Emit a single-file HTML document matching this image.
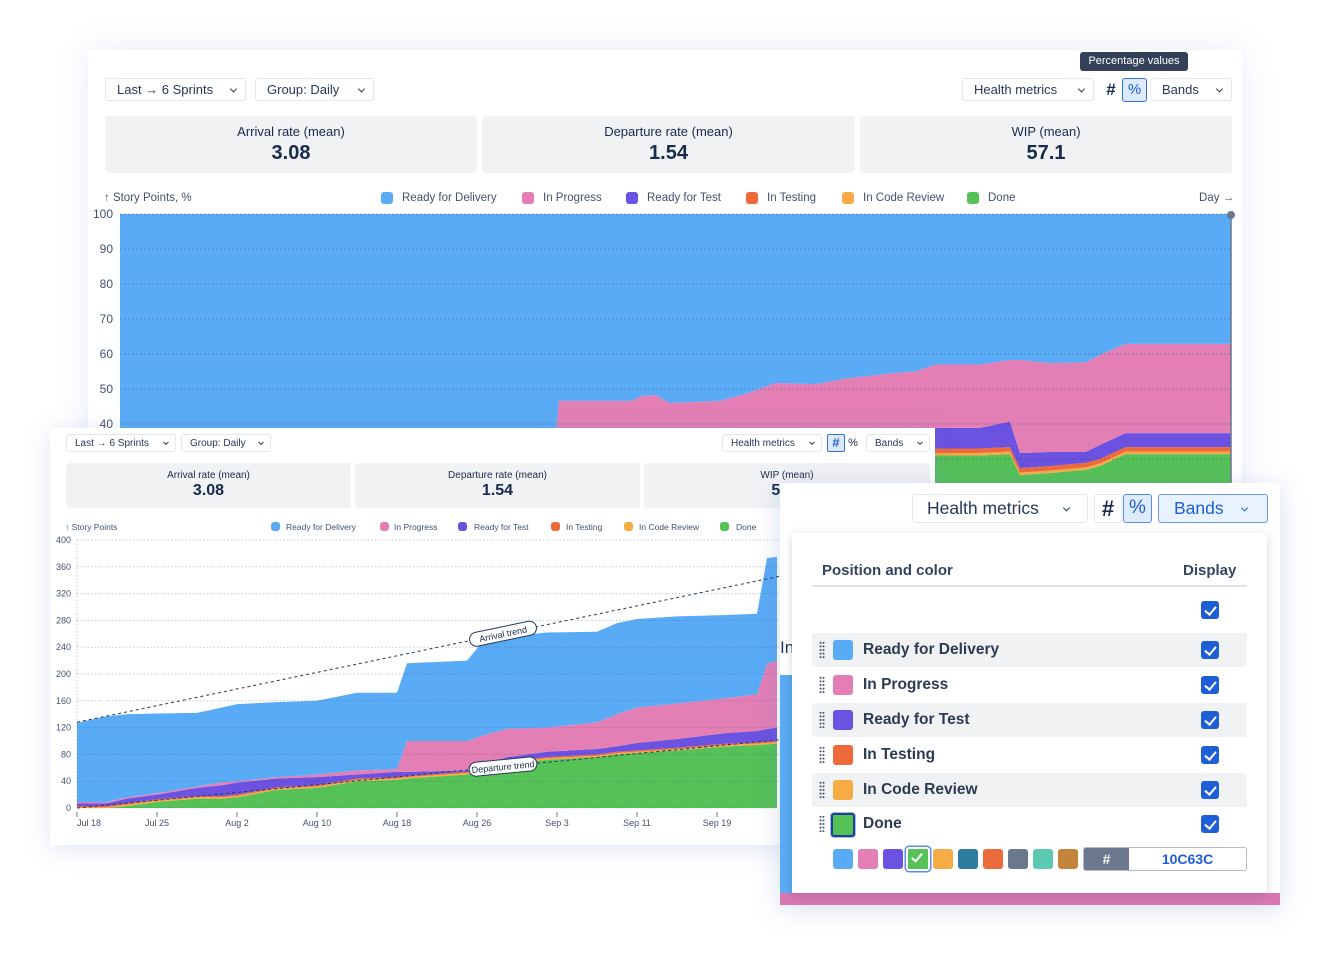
<!DOCTYPE html>
<html><head><meta charset="utf-8">
<style>
*{box-sizing:border-box;margin:0;padding:0}
body{width:1329px;height:956px;background:#fff;position:relative;overflow:hidden;font-family:"Liberation Sans",sans-serif;color:#172b4d}
.card{position:absolute;background:#fff;overflow:hidden}
.abs{position:absolute}
.btn{position:absolute;border:1px solid #e3e6ea;border-radius:3px;background:#fff;display:flex;align-items:center;padding-left:11px;color:#253858;white-space:nowrap}
.btn .chev{position:absolute;right:9px;top:50%;width:5px;height:5px;border-right:1.5px solid #253858;border-bottom:1.5px solid #253858;transform:translateY(-70%) rotate(45deg)}
.tile{position:absolute;background:#f1f2f4;border-radius:4px;text-align:center}
.sw{position:absolute;border-radius:3px}
.lg{position:absolute;white-space:nowrap;color:#42526e}
.cb{position:absolute;width:18px;height:18px;background:#1e5fd6;border-radius:3px}
.cb:after{content:"";position:absolute;left:6px;top:2.5px;width:5px;height:9px;border-right:2px solid #fff;border-bottom:2px solid #fff;transform:rotate(40deg)}
.row{position:absolute;left:812px;width:435px;height:34px;border-radius:3px}
.rl{position:absolute;font-weight:bold;font-size:15.5px;color:#2c3a52}
.drag{position:absolute;width:6px;height:18px;background-image:radial-gradient(circle,#42526e 0.9px,transparent 1.1px);background-size:3px 3.6px}
</style></head><body>

<!-- BACK CARD -->
<div class="card" style="left:88px;top:50px;width:1154px;height:460px;box-shadow:0 0 30px rgba(120,150,220,0.18)">
  <svg id="backSvg" class="abs" style="left:-88px;top:-50px" width="1329" height="956"></svg>
</div>
<div class="btn" style="left:105px;top:78px;width:141px;height:23px;font-size:13px">Last → 6 Sprints<span class="chev"></span></div>
<div class="btn" style="left:255px;top:78px;width:119px;height:23px;font-size:13px">Group: Daily<span class="chev"></span></div>
<div class="btn" style="left:962px;top:78px;width:132px;height:23px;font-size:13px">Health metrics<span class="chev"></span></div>
<div class="abs" style="left:1101px;top:78px;width:20px;height:23px;font-size:17px;font-weight:bold;text-align:center;line-height:23px">#</div>
<div class="abs" style="left:1122px;top:78px;width:25px;height:24px;background:#deebff;border:1.5px solid #2f6fde;border-radius:3px;font-size:15px;text-align:center;line-height:21px;color:#1d5ed8">%</div>
<div class="btn" style="left:1150px;top:78px;width:82px;height:23px;font-size:13px">Bands<span class="chev"></span></div>
<div class="abs" style="left:1080px;top:52px;width:108px;height:19px;background:#344158;color:#fff;font-size:11px;border-radius:3px;text-align:center;line-height:19px">Percentage values</div>

<div class="tile" style="left:105px;top:116px;width:372px;height:57px"><div style="font-size:13px;margin-top:8px">Arrival rate (mean)</div><div style="font-size:20px;font-weight:bold;margin-top:3px">3.08</div></div>
<div class="tile" style="left:482px;top:116px;width:373px;height:57px"><div style="font-size:13px;margin-top:8px">Departure rate (mean)</div><div style="font-size:20px;font-weight:bold;margin-top:3px">1.54</div></div>
<div class="tile" style="left:860px;top:116px;width:372px;height:57px"><div style="font-size:13px;margin-top:8px">WIP (mean)</div><div style="font-size:20px;font-weight:bold;margin-top:3px">57.1</div></div>

<div class="lg" style="left:104px;top:192px;font-size:11.5px">↑ Story Points, %</div>
<div class="lg" style="left:1199px;top:192px;font-size:11.5px">Day →</div>
<div>
<div class="sw" style="left:381px;top:192px;width:12px;height:12px;background:#5aabf5"></div><div class="lg" style="left:402px;top:192px;font-size:11.5px">Ready for Delivery</div>
<div class="sw" style="left:522px;top:192px;width:12px;height:12px;background:#e37fb5"></div><div class="lg" style="left:543px;top:192px;font-size:11.5px">In Progress</div>
<div class="sw" style="left:626px;top:192px;width:12px;height:12px;background:#6b52e0"></div><div class="lg" style="left:647px;top:192px;font-size:11.5px">Ready for Test</div>
<div class="sw" style="left:746px;top:192px;width:12px;height:12px;background:#ee6a3a"></div><div class="lg" style="left:767px;top:192px;font-size:11.5px">In Testing</div>
<div class="sw" style="left:842px;top:192px;width:12px;height:12px;background:#f5ac45"></div><div class="lg" style="left:863px;top:192px;font-size:11.5px">In Code Review</div>
<div class="sw" style="left:967px;top:192px;width:12px;height:12px;background:#55c157"></div><div class="lg" style="left:988px;top:192px;font-size:11.5px">Done</div>
</div>

<!-- FRONT CARD -->
<div class="card" style="left:50px;top:428px;width:885px;height:417px;box-shadow:0 4px 24px rgba(100,130,200,0.2)">
  <svg id="frontSvg" class="abs" style="left:-50px;top:-428px" width="1329" height="956"></svg>
</div>
<div class="btn" style="left:66px;top:434px;width:110px;height:18px;font-size:10px;padding-left:8px">Last → 6 Sprints<span class="chev" style="width:4px;height:4px;right:7px"></span></div>
<div class="btn" style="left:181px;top:434px;width:90px;height:18px;font-size:10px;padding-left:8px">Group: Daily<span class="chev" style="width:4px;height:4px;right:7px"></span></div>
<div class="btn" style="left:722px;top:434px;width:100px;height:18px;font-size:10px;padding-left:8px">Health metrics<span class="chev" style="width:4px;height:4px;right:7px"></span></div>
<div class="abs" style="left:827px;top:434px;width:18px;height:18px;background:#deebff;border:1px solid #2f6fde;border-radius:2px;font-size:13px;font-weight:bold;text-align:center;line-height:16px;color:#1d5ed8">#</div>
<div class="abs" style="left:846px;top:434px;width:14px;height:18px;font-size:11px;text-align:center;line-height:18px">%</div>
<div class="btn" style="left:866px;top:434px;width:64px;height:18px;font-size:10px;padding-left:8px">Bands<span class="chev" style="width:4px;height:4px;right:7px"></span></div>
<div class="tile" style="left:66px;top:463px;width:285px;height:45px"><div style="font-size:10px;margin-top:7px">Arrival rate (mean)</div><div style="font-size:16px;font-weight:bold;margin-top:1px">3.08</div></div>
<div class="tile" style="left:355px;top:463px;width:285px;height:45px"><div style="font-size:10px;margin-top:7px">Departure rate (mean)</div><div style="font-size:16px;font-weight:bold;margin-top:1px">1.54</div></div>
<div class="tile" style="left:644px;top:463px;width:286px;height:45px"><div style="font-size:10px;margin-top:7px">WIP (mean)</div><div style="font-size:16px;font-weight:bold;margin-top:1px">57.1</div></div>
<div class="lg" style="left:65px;top:522px;font-size:8.5px">↑ Story Points</div>
<div>
<div class="sw" style="left:271px;top:522px;width:9px;height:9px;background:#5aabf5"></div><div class="lg" style="left:286px;top:522px;font-size:8.5px">Ready for Delivery</div>
<div class="sw" style="left:380px;top:522px;width:9px;height:9px;background:#e37fb5"></div><div class="lg" style="left:394px;top:522px;font-size:8.5px">In Progress</div>
<div class="sw" style="left:458px;top:522px;width:9px;height:9px;background:#6b52e0"></div><div class="lg" style="left:474px;top:522px;font-size:8.5px">Ready for Test</div>
<div class="sw" style="left:551px;top:522px;width:9px;height:9px;background:#ee6a3a"></div><div class="lg" style="left:566px;top:522px;font-size:8.5px">In Testing</div>
<div class="sw" style="left:624px;top:522px;width:9px;height:9px;background:#f5ac45"></div><div class="lg" style="left:639px;top:522px;font-size:8.5px">In Code Review</div>
<div class="sw" style="left:720px;top:522px;width:9px;height:9px;background:#55c157"></div><div class="lg" style="left:736px;top:522px;font-size:8.5px">Done</div>
</div>

<!-- SETTINGS PANEL -->
<div class="card" style="left:780px;top:483px;width:500px;height:422px;box-shadow:0 4px 24px rgba(100,130,200,0.25)">
  <div class="abs" style="left:0;top:192px;width:12px;height:218px;background:#5aabf5"></div>
  <div class="abs" style="left:0;top:410px;width:500px;height:12px;background:#d978b0"></div>
  <div class="abs" style="left:0;top:155px;font-size:17px;color:#253858">In</div>
</div>
<div class="btn" style="left:912px;top:494px;width:176px;height:29px;font-size:17.5px;padding-left:14px">Health metrics<span class="chev" style="right:18px"></span></div>
<div class="abs" style="left:1094px;top:494px;width:28px;height:29px;border:1px solid #e3e6ea;border-radius:3px;font-size:22px;font-weight:bold;text-align:center;line-height:27px">#</div>
<div class="abs" style="left:1123px;top:494px;width:29px;height:29px;background:#deebff;border:1.5px solid #5a8ee6;border-radius:3px;font-size:19px;text-align:center;line-height:26px;color:#1d5ed8">%</div>
<div class="btn" style="left:1158px;top:494px;width:110px;height:29px;font-size:17.5px;padding-left:15px;background:#e9f2ff;border:1.5px solid #6b9ae8;color:#1d5ed8">Bands<span class="chev" style="right:20px;border-color:#1d5ed8"></span></div>

<div class="abs" style="left:792px;top:533px;width:475px;height:360px;background:#fff;border-radius:4px;box-shadow:0 2px 10px rgba(9,30,66,0.18)"></div>
<div class="rl" style="left:822px;top:562px;font-size:15px;color:#344563">Position and color</div>
<div class="rl" style="left:1183px;top:562px;font-size:15px;color:#344563">Display</div>
<div class="abs" style="left:812px;top:585px;width:435px;height:2px;background:#dfe1e6"></div>
<div class="cb" style="left:1201px;top:601px"></div>

<div class="row" style="top:633px;background:#f1f2f4"></div>
<div class="row" style="top:703px;background:#f1f2f4"></div>
<div class="row" style="top:773px;background:#f1f2f4"></div>

<div class="drag" style="left:819px;top:641px"></div>
<div class="sw" style="left:833px;top:640px;width:20px;height:20px;background:#5aabf5"></div>
<div class="rl" style="left:863px;top:641px">Ready for Delivery</div>
<div class="cb" style="left:1201px;top:641px"></div>

<div class="drag" style="left:819px;top:676px"></div>
<div class="sw" style="left:833px;top:675px;width:20px;height:20px;background:#e37fb5"></div>
<div class="rl" style="left:863px;top:676px">In Progress</div>
<div class="cb" style="left:1201px;top:676px"></div>

<div class="drag" style="left:819px;top:711px"></div>
<div class="sw" style="left:833px;top:710px;width:20px;height:20px;background:#6b52e0"></div>
<div class="rl" style="left:863px;top:711px">Ready for Test</div>
<div class="cb" style="left:1201px;top:711px"></div>

<div class="drag" style="left:819px;top:746px"></div>
<div class="sw" style="left:833px;top:745px;width:20px;height:20px;background:#ee6a3a"></div>
<div class="rl" style="left:863px;top:746px">In Testing</div>
<div class="cb" style="left:1201px;top:746px"></div>

<div class="drag" style="left:819px;top:781px"></div>
<div class="sw" style="left:833px;top:780px;width:20px;height:20px;background:#f5ac45"></div>
<div class="rl" style="left:863px;top:781px">In Code Review</div>
<div class="cb" style="left:1201px;top:781px"></div>

<div class="drag" style="left:819px;top:815px"></div>
<div class="sw" style="left:831px;top:813px;width:24px;height:24px;background:#55c157;border:2px solid #1f3f8f;box-shadow:0 0 0 1px #9bbcf0"></div>
<div class="rl" style="left:863px;top:815px">Done</div>
<div class="cb" style="left:1201px;top:815px"></div>

<div>
<div class="sw" style="left:833px;top:849px;width:20px;height:20px;background:#5aabf5"></div>
<div class="sw" style="left:858px;top:849px;width:20px;height:20px;background:#e37fb5"></div>
<div class="sw" style="left:883px;top:849px;width:20px;height:20px;background:#6b52e0"></div>
<div class="sw" style="left:906px;top:847px;width:24px;height:24px;background:#55c157;border:2px solid #fff;box-shadow:0 0 0 1.5px #5a8ee6"><div style="position:absolute;left:6px;top:2px;width:6px;height:11px;border-right:2px solid #fff;border-bottom:2px solid #fff;transform:rotate(40deg)"></div></div>
<div class="sw" style="left:933px;top:849px;width:20px;height:20px;background:#f5ac45"></div>
<div class="sw" style="left:958px;top:849px;width:20px;height:20px;background:#2e7d9e"></div>
<div class="sw" style="left:983px;top:849px;width:20px;height:20px;background:#ea6c3a"></div>
<div class="sw" style="left:1008px;top:849px;width:20px;height:20px;background:#6b778c"></div>
<div class="sw" style="left:1033px;top:849px;width:20px;height:20px;background:#5ccab0"></div>
<div class="sw" style="left:1058px;top:849px;width:20px;height:20px;background:#c4843b"></div>
</div>
<div class="abs" style="left:1083px;top:847px;width:164px;height:24px;border:1.5px solid #b3bac5;border-radius:3px;overflow:hidden;background:#fff">
  <div class="abs" style="left:0;top:0;width:45px;height:22px;background:#6b778c;color:#fff;font-weight:bold;font-size:14px;text-align:center;line-height:22px">#</div>
  <div class="abs" style="left:45px;top:0;width:117px;height:22px;color:#1d5ed8;font-weight:bold;font-size:14px;text-align:center;line-height:22px">10C63C</div>
</div>

<script>
// ---- Back chart (percent) data ----
const bDays = [0,39.2,39.5,40,46,47,48.2,49.5,54,56.3,59,62.6,65.3,69.8,71.6,73.4,77.4,80.1,81,83.7,86.9,88.2,90.5,100];
const bDone = [20,22,22,22,24,24,24,25,26,27,28,28,29,30,30,31,31,31.4,25.4,26,26.9,28,31.4,31.4];
const bCodeReview = [0.7,0.7,0.7,0.7,0.7,0.7,0.7,0.7,0.7,0.7,0.7,0.7,0.7,0.7,0.7,0.7,0.7,0.7,0.7,0.7,0.7,0.7,0.7,0.7];
const bTesting = [1.3,1.3,1.3,1.3,1.3,1.3,1.3,1.3,1.3,1.3,1.3,1.3,1.3,1.3,1.3,1.3,1.3,1.3,1.3,1.3,1.3,1.3,1.3,1.3];
const bReadyTest = [13,11,11,11,9,9,9,8,8,7,6,7,6,5,6,5.9,5.9,7.3,4.3,4,3.1,4,4,4];
const bInProgress = [1,1,11.6,11.6,11.6,13,13.3,11,10.6,12.6,15.7,14.4,16,17.6,17,18.1,18.1,17.6,26.6,25.4,25.6,25.7,25.5,25.5];
const bReadyDelivery = [64,64,53.4,53.4,53.4,52,51.7,54,53.4,51.4,48.3,48.6,47,45.4,45,43,43,41.7,41.7,42.6,42.4,40.3,37.1,37.1];
const bTicks = [100,90,80,70,60,50,40,30,20,10,0];

// ---- Front chart (story points) data ----
const fDays = [0,3,5,8,12,14.5,16,20,24,28,32,33,39,41,43,47,52,54,56,60,65,68,69,70];
const fDone = [0,0,3,9,14,14,16,27,30,40,42,44,50,58,66,72,76,80,82,86,92,94,95,96];
const fCodeReview = [1,1,2,2,2,2,2,2,2,2,2,2,2,2,2,2,2,2,2,2,2,2,2,2];
const fTesting = [2,2,2,2,2,2,2,2,2,2,2,2,2,2,2,2,2,2,2,2,2,2,2,2];
const fReadyTest = [4,4,7,7,12,16,18,13,12,6,8,6,2,2,6,8,8,8,11,13,16,17,19,20];
const fInProgress = [2,2,2,2,2,4,2,2,4,6,4,46,44,46,42,36,40,48,53,53,52,55,97,100];
const fReadyDelivery = [118,128,124,119,110,112,115,112,110,116,114,116,120,146,138,142,135,136,132,130,124,120,158,155];
const fTicks = [0,40,80,120,160,200,240,280,320,360,400];
const xTickLabels = ["Jul 18","Jul 25","Aug 2","Aug 10","Aug 18","Aug 26","Sep 3","Sep 11","Sep 19"];
const xTickDays = [0,8,16,24,32,40,48,56,64];
const trendDays = [0,70.3];
const arrivalTrend = [128,346];
const departureTrend = [0,102];

const NS = "http://www.w3.org/2000/svg";
const COLORS = ["#55c157","#f5ac45","#ee6a3a","#6b52e0","#e37fb5","#5aabf5"];
const NAMES = ["done","in-code-review","in-testing","ready-for-test","in-progress","ready-for-delivery"];
function mk(svg, tag, attrs){const e=document.createElementNS(NS,tag);for(const k in attrs)e.setAttribute(k,attrs[k]);svg.appendChild(e);return e;}

function drawStack(svg, days, series, xs, ys, prefix){
  const n = days.length; let lower = new Array(n).fill(0);
  series.forEach((s,i)=>{
    const upper = lower.map((v,j)=>v+s[j]);
    let pts=[];
    for(let j=0;j<n;j++) pts.push(xs(days[j])+","+ys(upper[j]));
    for(let j=n-1;j>=0;j--) pts.push(xs(days[j])+","+ys(lower[j]));
    const p = mk(svg,"polygon",{points:pts.join(" "),fill:COLORS[i]});
    
    
    lower = upper;
  });
}

// Back chart
(function(){
  const svg = document.getElementById("backSvg");
  const xs = d => 120 + d*11.11;
  const ys = v => 564 - v*3.5;
  drawStack(svg,bDays,[bDone,bCodeReview,bTesting,bReadyTest,bInProgress,bReadyDelivery],xs,ys,"back");
  bTicks.forEach(t=>{
    const l = mk(svg,"line",{x1:120,x2:1231,y1:ys(t),y2:ys(t),stroke:"rgba(40,60,110,0.35)","stroke-dasharray":"2 2","stroke-width":1});
    
    
    const tx = mk(svg,"text",{x:113,y:ys(t)+4,"text-anchor":"end","font-size":12,fill:"#42526e","font-family":"Liberation Sans"});
    tx.textContent = t;
    
    
  });
  const vl = mk(svg,"line",{x1:1231,x2:1231,y1:215,y2:564,stroke:"#6b778c","stroke-width":1.5});
  
  
  const dot = mk(svg,"circle",{cx:1231,cy:215,r:4,fill:"#6b778c"});
  
  
})();

// Front chart
(function(){
  const svg = document.getElementById("frontSvg");
  const xs = d => 77 + d*10;
  const ys = v => 808 - v*0.67;
  drawStack(svg,fDays,[fDone,fCodeReview,fTesting,fReadyTest,fInProgress,fReadyDelivery],xs,ys,"front");
  fTicks.forEach(t=>{
    const l = mk(svg,"line",{x1:77,x2:790,y1:ys(t),y2:ys(t),stroke:"rgba(60,80,120,0.3)","stroke-dasharray":"1.5 2","stroke-width":1});
    
    
    const tx = mk(svg,"text",{x:71,y:ys(t)+3,"text-anchor":"end","font-size":9,fill:"#42526e","font-family":"Liberation Sans"});
    tx.textContent = t;
    
    
  });
  const ax = mk(svg,"line",{x1:77,x2:77,y1:540,y2:808,stroke:"rgba(60,80,120,0.3)","stroke-dasharray":"1.5 2"});
  
  
  xTickDays.forEach((d,i)=>{
    const tk = mk(svg,"line",{x1:xs(d),x2:xs(d),y1:812,y2:817,stroke:"#6b778c"});
    
    
    const tx = mk(svg,"text",{x:xs(d),y:826,"text-anchor":i===0?"start":"middle","font-size":9,fill:"#42526e","font-family":"Liberation Sans"});
    tx.textContent = xTickLabels[i];
    
    
  });
  function trend(vals,name,label,frac){
    const ln = mk(svg,"line",{x1:xs(trendDays[0]),y1:ys(vals[0]),x2:xs(trendDays[1]),y2:ys(vals[1]),stroke:"#253858","stroke-width":1,"stroke-dasharray":"3 3"});
    
    
    const d = trendDays[0]+(trendDays[1]-trendDays[0])*frac;
    const v = vals[0]+(vals[1]-vals[0])*frac;
    const ang = Math.atan2(ys(vals[1])-ys(vals[0]), xs(trendDays[1])-xs(trendDays[0]))*180/Math.PI;
    const g = mk(svg,"g",{transform:`translate(${xs(d)},${ys(v)}) rotate(${ang})`});
    
    
    mk(g,"rect",{x:-34,y:-7,width:68,height:14,rx:7,fill:"#fff",stroke:"#253858","stroke-width":1});
    const t = mk(g,"text",{x:0,y:3.5,"text-anchor":"middle","font-size":9,fill:"#172b4d","font-family":"Liberation Sans"});
    t.textContent = label;
  }
  trend(arrivalTrend,"arrival-trend","Arrival trend",0.606);
  trend(departureTrend,"departure-trend","Departure trend",0.606);
})();
</script>
</body></html>
